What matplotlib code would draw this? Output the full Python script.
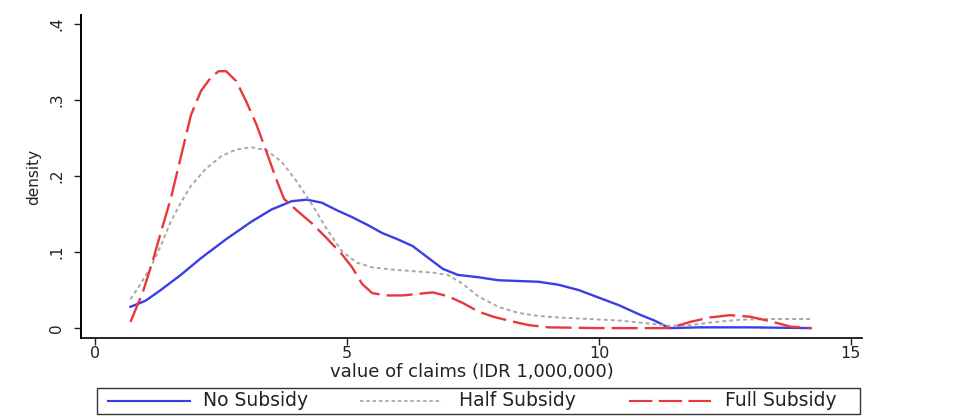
import matplotlib

matplotlib.use("Agg")
import matplotlib.pyplot as plt
from matplotlib.lines import Line2D
from matplotlib.patches import Rectangle

# Kernel density estimates of claim values by subsidy group
no_x = [0.7, 1.0, 1.3, 1.7, 2.1, 2.6, 3.1, 3.5, 3.9, 4.2, 4.5, 4.8, 5.1, 5.4, 5.7,
        6.0, 6.3, 6.6, 6.9, 7.2, 7.6, 8.0, 8.4, 8.8, 9.2, 9.6, 10.0, 10.4, 10.8,
        11.1, 11.4, 12.0, 13.0, 14.2]
no_y = [0.028, 0.036, 0.050, 0.070, 0.092, 0.117, 0.140, 0.156, 0.167, 0.169,
        0.165, 0.155, 0.146, 0.136, 0.125, 0.117, 0.108, 0.093, 0.078, 0.070,
        0.067, 0.063, 0.062, 0.061, 0.057, 0.050, 0.040, 0.030, 0.018, 0.010,
        0.000, 0.001, 0.001, 0.000]

half_x = [0.7, 0.9, 1.1, 1.3, 1.5, 1.7, 1.9, 2.2, 2.5, 2.8, 3.1, 3.4, 3.7, 4.0,
          4.3, 4.6, 4.9, 5.2, 5.5, 5.9, 6.3, 6.7, 7.0, 7.3, 7.6, 8.0, 8.4, 8.8,
          9.2, 9.8, 10.4, 11.0, 11.4, 11.8, 12.3, 12.8, 13.4, 14.2]
half_y = [0.038, 0.058, 0.080, 0.108, 0.140, 0.165, 0.187, 0.210, 0.226, 0.235,
          0.238, 0.234, 0.219, 0.193, 0.163, 0.130, 0.101, 0.086, 0.080, 0.077,
          0.075, 0.073, 0.070, 0.058, 0.042, 0.028, 0.020, 0.016, 0.014, 0.012,
          0.010, 0.006, 0.003, 0.004, 0.008, 0.011, 0.012, 0.012]

full_x = [0.7, 0.95, 1.15, 1.3, 1.5, 1.7, 1.9, 2.1, 2.3, 2.45, 2.6, 2.8, 3.0,
          3.2, 3.4, 3.6, 3.75, 4.0, 4.3, 4.6, 4.9, 5.1, 5.3, 5.5, 5.8, 6.1, 6.4,
          6.7, 7.0, 7.3, 7.6, 7.9, 8.2, 8.6, 9.0, 10.0, 11.0, 11.4, 11.8, 12.2,
          12.6, 13.0, 13.4, 13.8, 14.2]
full_y = [0.008, 0.048, 0.090, 0.125, 0.170, 0.225, 0.280, 0.312, 0.330, 0.338,
          0.338, 0.325, 0.298, 0.268, 0.232, 0.195, 0.170, 0.155, 0.138, 0.118,
          0.097, 0.080, 0.058, 0.046, 0.043, 0.043, 0.045, 0.047, 0.042, 0.033,
          0.022, 0.015, 0.010, 0.004, 0.001, 0.000, 0.000, 0.000, 0.008, 0.014,
          0.017, 0.015, 0.009, 0.002, 0.000]

series_labels = ["No Subsidy", "Half Subsidy", "Full Subsidy"]
x_ticks = [0, 5, 10, 15]
y_ticks = [0, 0.1, 0.2, 0.3, 0.4]
y_tick_labels = ["0", ".1", ".2", ".3", ".4"]

plt.rcParams["font.family"] = ["DejaVu Sans"]

W, H = 974, 416
fig = plt.figure(figsize=(W / 100, H / 100), dpi=100)
ax = fig.add_axes([0.0832, 0.1875, 0.8018, 0.7765])

styles = [
    dict(color="#3a3ee6", lw=1.7, linestyle="-"),
    dict(color="#a8a8a8", lw=1.4, linestyle=(0, (2, 1.6))),
    dict(color="#e8383c", lw=1.7, linestyle=(0, (11, 3))),
]
series = [(no_x, no_y), (half_x, half_y), (full_x, full_y)]
for (xs, ys), st, lab in zip(series, styles, series_labels):
    ax.plot(xs, ys, label=lab, **st)

ax.set_xlim(-0.28, 15.22)
ax.set_ylim(-0.013, 0.412)
ax.set_xticks(x_ticks)
ax.set_yticks(y_ticks)
ax.set_yticklabels(y_tick_labels)

for side in ["top", "right"]:
    ax.spines[side].set_visible(False)
ax.spines["left"].set_linewidth(1.4)
ax.spines["bottom"].set_linewidth(1.2)

ax.tick_params(axis="x", length=5, width=1, pad=1, labelsize=11.5, colors="#222222")
ax.tick_params(axis="y", length=5, width=1, pad=7, labelsize=11, colors="#222222",
               labelrotation=90)
for lbl in ax.get_yticklabels():
    lbl.set_va("center")

ax.set_xlabel("value of claims (IDR 1,000,000)", fontsize=13, color="#222222", labelpad=1)
ax.set_ylabel("density", fontsize=11, color="#222222", labelpad=6)

# legend row below the plot: framed box with three key/label pairs
fig.add_artist(Rectangle((97 / W, 2 / H), 763 / W, 26 / H, transform=fig.transFigure,
                         facecolor="white", edgecolor="#333333", lw=1.0))
key_starts = [108, 360, 629]
key_len = 82
text_starts = [203, 459, 725]
row_y = 1 - 401 / H
for st, lab, k0, t0 in zip(styles, series_labels, key_starts, text_starts):
    key_style = dict(st, lw=st["lw"] * 0.9)
    fig.add_artist(Line2D([k0 / W, (k0 + key_len) / W], [row_y, row_y],
                          transform=fig.transFigure, **key_style))
    fig.text(t0 / W, row_y, lab, fontsize=13.5, color="#222222",
             ha="left", va="center")

fig.savefig("out.png", dpi=100)
